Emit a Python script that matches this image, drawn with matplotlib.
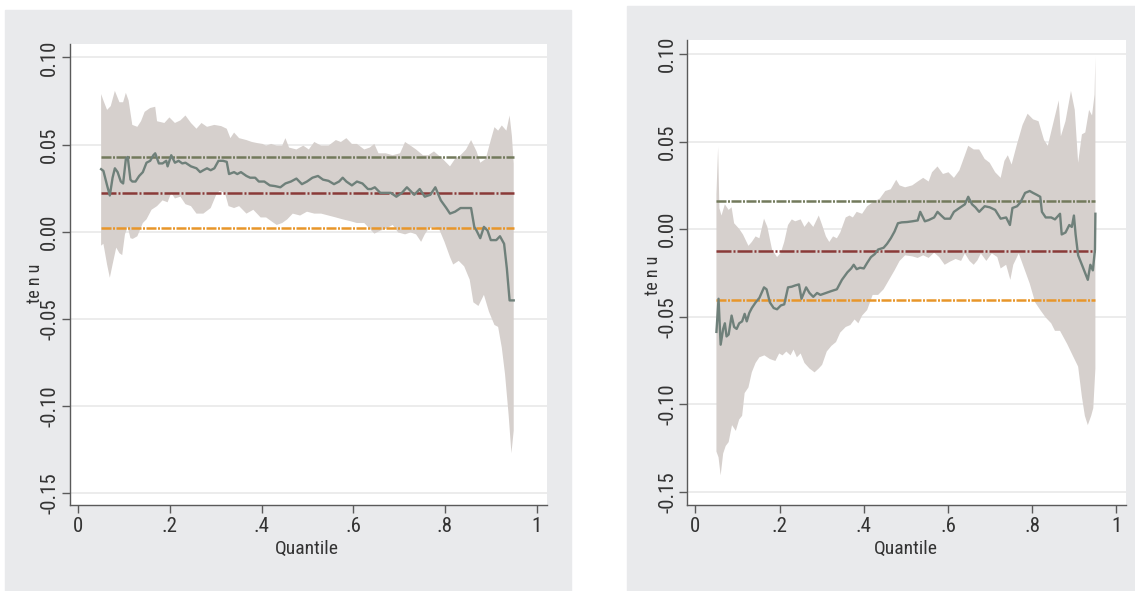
import numpy as np
import matplotlib
matplotlib.use("Agg")
import matplotlib.pyplot as plt
from matplotlib.patches import Rectangle

plt.rcParams['font.family'] = ['Roboto Condensed', 'Liberation Sans', 'DejaVu Sans']

# ---- left panel data ----
q_up_l = [0.05, 0.055, 0.063, 0.071, 0.080, 0.090, 0.098, 0.104, 0.110, 0.118, 0.129, 0.137,
          0.145, 0.157, 0.168, 0.172, 0.188, 0.199, 0.211, 0.223, 0.234, 0.246, 0.258, 0.269,
          0.281, 0.297, 0.312, 0.324, 0.332, 0.340, 0.351, 0.367, 0.379, 0.390, 0.402, 0.410,
          0.421, 0.433, 0.445, 0.452, 0.460, 0.476, 0.491, 0.503, 0.515, 0.530, 0.546, 0.562,
          0.573, 0.585, 0.597, 0.608, 0.624, 0.636, 0.646, 0.655, 0.671, 0.686, 0.702, 0.713,
          0.725, 0.737, 0.752, 0.764, 0.776, 0.795, 0.811, 0.822, 0.834, 0.846, 0.857, 0.869,
          0.877, 0.889, 0.900, 0.908, 0.916, 0.924, 0.934, 0.941, 0.946, 0.95]
up_l = [0.0790, 0.0753, 0.0699, 0.0721, 0.0808, 0.0743, 0.0743, 0.0797, 0.0753, 0.0613, 0.0602, 0.0634,
        0.0688, 0.0710, 0.0717, 0.0634, 0.0624, 0.0656, 0.0624, 0.0639, 0.0667, 0.0624, 0.0591, 0.0624,
        0.0602, 0.0613, 0.0606, 0.0591, 0.0537, 0.0569, 0.0537, 0.0526, 0.0515, 0.0509, 0.0504, 0.0494,
        0.0504, 0.0494, 0.0494, 0.0537, 0.0483, 0.0472, 0.0494, 0.0472, 0.0515, 0.0494, 0.0494, 0.0526,
        0.0515, 0.0537, 0.0504, 0.0504, 0.0472, 0.0483, 0.0504, 0.0450, 0.0450, 0.0439, 0.0450, 0.0515,
        0.0494, 0.0472, 0.0439, 0.0439, 0.0461, 0.0418, 0.0375, 0.0418, 0.0439, 0.0472, 0.0526, 0.0461,
        0.0396, 0.0418, 0.0526, 0.0600, 0.0580, 0.0610, 0.0580, 0.0667, 0.0550, 0.0390]

q_lo_l = [0.05, 0.055, 0.063, 0.069, 0.075, 0.083, 0.090, 0.096, 0.102, 0.108, 0.114, 0.119,
          0.129, 0.141, 0.149, 0.160, 0.172, 0.184, 0.195, 0.203, 0.211, 0.223, 0.234, 0.246,
          0.258, 0.273, 0.289, 0.301, 0.308, 0.320, 0.328, 0.340, 0.351, 0.367, 0.382, 0.398,
          0.410, 0.421, 0.433, 0.445, 0.456, 0.468, 0.484, 0.499, 0.515, 0.530, 0.546, 0.562,
          0.577, 0.593, 0.608, 0.624, 0.636, 0.646, 0.659, 0.671, 0.686, 0.698, 0.713, 0.725,
          0.737, 0.748, 0.756, 0.764, 0.776, 0.787, 0.799, 0.811, 0.818, 0.830, 0.842, 0.854,
          0.862, 0.873, 0.885, 0.896, 0.908, 0.916, 0.924, 0.931, 0.939, 0.945, 0.95]
lo_l = [-0.0080, -0.0069, -0.0188, -0.0264, -0.0188, -0.0091, -0.0123, -0.0134, -0.0015, 0.0028, -0.0037, -0.0041,
        -0.0026, 0.0050, 0.0071, 0.0126, 0.0147, 0.0180, 0.0169, 0.0223, 0.0191, 0.0201, 0.0158, 0.0147,
        0.0104, 0.0104, 0.0136, 0.0212, 0.0234, 0.0223, 0.0147, 0.0136, 0.0147, 0.0104, 0.0126, 0.0082,
        0.0082, 0.0061, 0.0039, 0.0050, 0.0071, 0.0104, 0.0093, 0.0115, 0.0104, 0.0104, 0.0093, 0.0082,
        0.0071, 0.0061, 0.0050, 0.0050, 0.0017, -0.0011, 0.0006, 0.0017, 0.0039, -0.0004, -0.0015, -0.0004,
        -0.0015, -0.0058, -0.0015, 0.0017, 0.0028, 0.0017, -0.0058, -0.0145, -0.0188, -0.0167, -0.0199, -0.0275,
        -0.0405, -0.0426, -0.0362, -0.0459, -0.0535, -0.0546, -0.0665, -0.0816, -0.1054, -0.1271, -0.1141]

q_est_l = [0.05, 0.055, 0.063, 0.069, 0.075, 0.080, 0.086, 0.093, 0.098, 0.104, 0.108, 0.114,
           0.118, 0.125, 0.133, 0.141, 0.149, 0.157, 0.164, 0.168, 0.176, 0.184, 0.192, 0.195,
           0.203, 0.211, 0.219, 0.227, 0.234, 0.246, 0.258, 0.266, 0.273, 0.281, 0.289, 0.297,
           0.306, 0.316, 0.324, 0.329, 0.340, 0.347, 0.355, 0.367, 0.375, 0.386, 0.394, 0.406,
           0.418, 0.429, 0.441, 0.452, 0.464, 0.476, 0.488, 0.499, 0.511, 0.523, 0.534, 0.546,
           0.558, 0.569, 0.577, 0.585, 0.597, 0.608, 0.620, 0.632, 0.639, 0.647, 0.659, 0.671,
           0.682, 0.694, 0.706, 0.717, 0.725, 0.733, 0.745, 0.756, 0.768, 0.779, 0.791, 0.803,
           0.811, 0.822, 0.834, 0.846, 0.857, 0.864, 0.869, 0.877, 0.885, 0.893, 0.900, 0.912,
           0.920, 0.929, 0.935, 0.941, 0.95]
est_l = [0.0359, 0.0349, 0.0266, 0.0208, 0.0310, 0.0364, 0.0342, 0.0288, 0.0277, 0.0418, 0.0429, 0.0299,
         0.0288, 0.0288, 0.0320, 0.0342, 0.0396, 0.0407, 0.0439, 0.0450, 0.0392, 0.0392, 0.0407, 0.0375,
         0.0439, 0.0396, 0.0407, 0.0392, 0.0396, 0.0375, 0.0364, 0.0342, 0.0353, 0.0364, 0.0353, 0.0364,
         0.0407, 0.0407, 0.0401, 0.0331, 0.0342, 0.0331, 0.0342, 0.0320, 0.0310, 0.0310, 0.0288, 0.0288,
         0.0266, 0.0262, 0.0255, 0.0277, 0.0288, 0.0305, 0.0273, 0.0288, 0.0310, 0.0320, 0.0299, 0.0292,
         0.0273, 0.0288, 0.0310, 0.0288, 0.0266, 0.0288, 0.0277, 0.0245, 0.0245, 0.0255, 0.0223, 0.0223,
         0.0223, 0.0201, 0.0223, 0.0255, 0.0234, 0.0212, 0.0245, 0.0201, 0.0212, 0.0255, 0.0180, 0.0136,
         0.0104, 0.0115, 0.0136, 0.0136, 0.0136, 0.0028, 0.0006, -0.0037, 0.0028, 0.0006, -0.0048, -0.0048,
         -0.0026, -0.0069, -0.0210, -0.0394, -0.0394]

ref_l = [0.0427, 0.0223, 0.0022]

# ---- right panel data ----
q_up_r = [0.05, 0.054, 0.057, 0.062, 0.070, 0.079, 0.086, 0.092, 0.104, 0.113, 0.126, 0.134,
          0.143, 0.152, 0.163, 0.171, 0.182, 0.194, 0.203, 0.211, 0.220, 0.229, 0.237, 0.250,
          0.259, 0.269, 0.280, 0.293, 0.301, 0.310, 0.318, 0.327, 0.336, 0.344, 0.357, 0.366,
          0.374, 0.383, 0.396, 0.408, 0.421, 0.438, 0.451, 0.464, 0.477, 0.485, 0.498, 0.515,
          0.528, 0.541, 0.554, 0.562, 0.575, 0.588, 0.601, 0.614, 0.627, 0.640, 0.648, 0.661,
          0.674, 0.687, 0.699, 0.712, 0.725, 0.734, 0.742, 0.751, 0.764, 0.777, 0.789, 0.802,
          0.815, 0.828, 0.837, 0.850, 0.863, 0.868, 0.879, 0.892, 0.901, 0.909, 0.918, 0.926,
          0.935, 0.942, 0.948, 0.95]
up_r = [0.0200, 0.0470, 0.0120, 0.0078, 0.0142, 0.0110, 0.0125, 0.0034, 0.0002, -0.0030, -0.0095, -0.0073,
        -0.0041, -0.0052, 0.0060, 0.0013, -0.0116, -0.0159, -0.0134, -0.0073, 0.0024, 0.0056, 0.0045, 0.0056,
        0.0013, 0.0045, 0.0013, 0.0078, 0.0024, -0.0041, -0.0073, -0.0041, -0.0052, -0.0019, 0.0067, 0.0078,
        0.0067, 0.0099, 0.0088, 0.0131, 0.0153, 0.0175, 0.0218, 0.0228, 0.0282, 0.0250, 0.0239, 0.0250,
        0.0272, 0.0293, 0.0272, 0.0325, 0.0358, 0.0315, 0.0325, 0.0293, 0.0336, 0.0422, 0.0476, 0.0455,
        0.0455, 0.0401, 0.0379, 0.0325, 0.0293, 0.0390, 0.0422, 0.0369, 0.0487, 0.0595, 0.0659, 0.0627,
        0.0616, 0.0509, 0.0476, 0.0606, 0.0735, 0.0530, 0.0616, 0.0789, 0.0681, 0.0379, 0.0541, 0.0552,
        0.0681, 0.0649, 0.0767, 0.0983]

q_lo_r = [0.05, 0.055, 0.060, 0.066, 0.072, 0.079, 0.087, 0.096, 0.104, 0.111, 0.117, 0.126,
          0.134, 0.143, 0.152, 0.164, 0.177, 0.190, 0.199, 0.207, 0.216, 0.226, 0.233, 0.241,
          0.250, 0.259, 0.271, 0.283, 0.293, 0.301, 0.312, 0.323, 0.334, 0.344, 0.357, 0.368,
          0.378, 0.387, 0.396, 0.408, 0.421, 0.434, 0.447, 0.460, 0.473, 0.485, 0.498, 0.515,
          0.528, 0.541, 0.554, 0.567, 0.579, 0.592, 0.605, 0.618, 0.631, 0.640, 0.651, 0.661,
          0.670, 0.678, 0.691, 0.704, 0.717, 0.725, 0.738, 0.748, 0.755, 0.768, 0.781, 0.794,
          0.807, 0.819, 0.832, 0.845, 0.854, 0.866, 0.883, 0.896, 0.909, 0.918, 0.925, 0.932,
          0.940, 0.945, 0.95]
lo_r = [-0.1269, -0.1302, -0.1405, -0.1280, -0.1237, -0.1215, -0.1118, -0.1151, -0.1086, -0.1065, -0.0935, -0.0903,
        -0.0817, -0.0763, -0.0731, -0.0720, -0.0741, -0.0752, -0.0709, -0.0720, -0.0698, -0.0720, -0.0687, -0.0731,
        -0.0709, -0.0763, -0.0795, -0.0817, -0.0795, -0.0774, -0.0698, -0.0666, -0.0644, -0.0590, -0.0558, -0.0547,
        -0.0515, -0.0537, -0.0493, -0.0461, -0.0375, -0.0375, -0.0343, -0.0289, -0.0235, -0.0181, -0.0149, -0.0155,
        -0.0164, -0.0149, -0.0164, -0.0134, -0.0159, -0.0203, -0.0185, -0.0170, -0.0181, -0.0138, -0.0181, -0.0203,
        -0.0177, -0.0138, -0.0181, -0.0138, -0.0159, -0.0224, -0.0203, -0.0289, -0.0203, -0.0138, -0.0224, -0.0310,
        -0.0418, -0.0461, -0.0504, -0.0537, -0.0580, -0.0580, -0.0655, -0.0720, -0.0784, -0.0957, -0.1065, -0.1118,
        -0.1065, -0.1021, -0.0795]

q_est_r = [0.05, 0.055, 0.060, 0.066, 0.070, 0.074, 0.079, 0.086, 0.092, 0.098, 0.104, 0.111,
           0.117, 0.122, 0.128, 0.134, 0.143, 0.152, 0.163, 0.169, 0.177, 0.186, 0.194, 0.203,
           0.211, 0.220, 0.229, 0.237, 0.246, 0.252, 0.263, 0.271, 0.280, 0.289, 0.297, 0.310,
           0.323, 0.336, 0.348, 0.361, 0.370, 0.376, 0.383, 0.391, 0.400, 0.408, 0.417, 0.426,
           0.434, 0.447, 0.455, 0.464, 0.473, 0.481, 0.490, 0.503, 0.515, 0.528, 0.534, 0.545,
           0.554, 0.567, 0.575, 0.584, 0.592, 0.605, 0.614, 0.627, 0.640, 0.648, 0.657, 0.665,
           0.674, 0.687, 0.699, 0.712, 0.725, 0.738, 0.747, 0.753, 0.764, 0.772, 0.783, 0.794,
           0.802, 0.811, 0.819, 0.823, 0.832, 0.845, 0.854, 0.866, 0.870, 0.879, 0.888, 0.894,
           0.899, 0.903, 0.909, 0.918, 0.925, 0.932, 0.938, 0.944, 0.949, 0.95]
est_r = [-0.0586, -0.0397, -0.0659, -0.0569, -0.0537, -0.0612, -0.0601, -0.0493, -0.0558, -0.0569, -0.0537, -0.0526,
         -0.0483, -0.0526, -0.0478, -0.0450, -0.0418, -0.0392, -0.0332, -0.0343, -0.0418, -0.0450, -0.0457, -0.0435,
         -0.0429, -0.0332, -0.0328, -0.0321, -0.0315, -0.0397, -0.0332, -0.0364, -0.0386, -0.0364, -0.0375, -0.0364,
         -0.0353, -0.0343, -0.0289, -0.0246, -0.0224, -0.0203, -0.0228, -0.0220, -0.0224, -0.0192, -0.0159, -0.0142,
         -0.0116, -0.0106, -0.0084, -0.0052, -0.0013, 0.0034, 0.0039, 0.0041, 0.0045, 0.0050, 0.0099, 0.0045,
         0.0052, 0.0067, 0.0099, 0.0078, 0.0060, 0.0060, 0.0099, 0.0121, 0.0142, 0.0185, 0.0142, 0.0125,
         0.0099, 0.0131, 0.0125, 0.0110, 0.0060, 0.0067, 0.0024, 0.0121, 0.0131, 0.0153, 0.0207, 0.0218,
         0.0207, 0.0196, 0.0185, 0.0099, 0.0067, 0.0067, 0.0056, 0.0088, -0.0030, -0.0019, 0.0024, 0.0013,
         0.0078, -0.0030, -0.0149, -0.0203, -0.0246, -0.0289, -0.0203, -0.0235, -0.0116, 0.0088]

ref_r = [0.0159, -0.0123, -0.0403]

x_ticks = [0, 0.2, 0.4, 0.6, 0.8, 1.0]
x_ticklabels = ['0', '.2', '.4', '.6', '.8', '1']
y_ticks = [0.10, 0.05, 0.0, -0.05, -0.10, -0.15]
y_ticklabels = ['0.10', '0.05', '0.00', '-0.05', '-0.10', '-0.15']

BG = '#e9eaec'
BAND = '#d6d0cd'
EST = '#6f807a'
# top: olive dotted, middle: dark red dash-dot, bottom: orange dotted
REF_STYLE = [('#737a5c', (0, (4, 0.6, 0.8, 0.6))),
             ('#8a3a38', (0, (6, 0.8, 0.8, 0.8))),
             ('#e8962a', (0, (4, 0.6, 0.8, 0.6)))]


def panel(ax, q_up, up, q_lo, lo, q_est, est, refs, ylim, ylab_xy, xlab_y):
    ax.set_facecolor('white')
    q_up, up, q_lo, lo = map(np.asarray, (q_up, up, q_lo, lo))
    ax.fill(np.r_[q_up, q_lo[::-1]], np.r_[up, lo[::-1]], color=BAND, lw=0, zorder=1)
    for val, (c, ls) in zip(refs, REF_STYLE):
        ax.plot([0.05, 0.95], [val, val], color=c, lw=1.8, linestyle=ls, zorder=2)
    ax.plot(q_est, est, color=EST, lw=1.7, zorder=3)

    ax.set_xlim(-0.0188, 1.0225)
    ax.set_ylim(*ylim)
    ax.set_xticks(x_ticks)
    ax.set_xticklabels(x_ticklabels)
    ax.set_yticks(y_ticks)
    ax.set_yticklabels(y_ticklabels, rotation=90, va='center')
    ax.yaxis.grid(True, color='#e9e9e9', lw=1.2)
    ax.set_axisbelow(True)
    for s in ('top', 'right'):
        ax.spines[s].set_visible(False)
    for s in ('left', 'bottom'):
        ax.spines[s].set_color('#5a5a5a')
        ax.spines[s].set_linewidth(1.0)
    ax.tick_params(axis='both', direction='out', length=5.5, width=1.0,
                   color='#5a5a5a', labelcolor='#333333', labelsize=15)
    ax.tick_params(axis='x', pad=3)
    ax.tick_params(axis='y', pad=2)
    ax.text(ylab_xy[0], ylab_xy[1], 'te n u', transform=ax.transAxes, rotation=90,
            ha='center', va='center', fontsize=13, color='#333333')
    ax.text(0.498, xlab_y, 'Quantile', transform=ax.transAxes, ha='center', va='center',
            fontsize=14, color='#333333')


fig = plt.figure(figsize=(11.35, 5.91), dpi=100)
fig.patches.append(Rectangle((0.004, 0.0), 0.499, 0.983, transform=fig.transFigure,
                             color=BG, zorder=-10))
fig.patches.append(Rectangle((0.5524, 0.0), 0.4476, 0.990, transform=fig.transFigure,
                             color=BG, zorder=-10))

ax1 = fig.add_axes([0.0613, 0.1455, 0.4206, 0.7797])
panel(ax1, q_up_l, up_l, q_lo_l, lo_l, q_est_l, est_l, ref_l,
      (-0.1568, 0.1076), (-0.0725, 0.482), -0.0955)

ax2 = fig.add_axes([0.6057, 0.1455, 0.3863, 0.7875])
panel(ax2, q_up_r, up_r, q_lo_r, lo_r, q_est_r, est_r, ref_r,
      (-0.1574, 0.1082), (-0.079, 0.494), -0.0945)

fig.savefig('out.png', dpi=100)
